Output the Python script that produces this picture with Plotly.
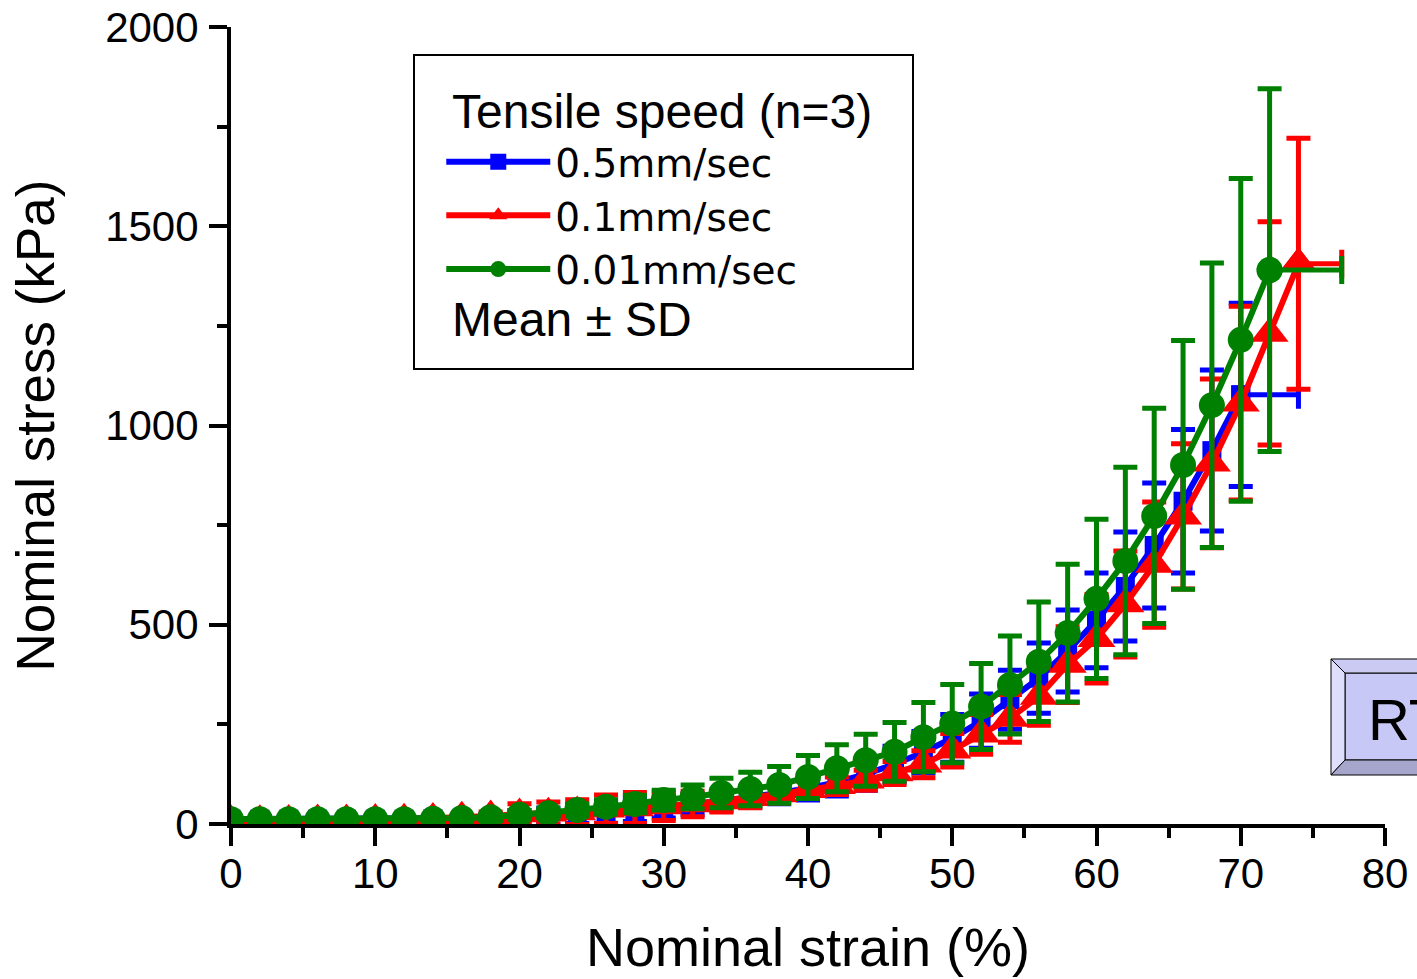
import plotly.graph_objects as go

# ---------------- data ----------------
strain_blue = [0, 2, 4, 6, 8, 10, 12, 14, 16, 18, 20, 22, 24, 26, 28, 30, 32, 34,
               36, 38, 40, 42, 44, 46, 48, 50, 52, 54, 56, 58, 60, 62, 64, 66, 68, 70]
stress_blue = [12, 12, 12, 12, 12, 12, 12, 13, 14, 15, 17, 20, 25, 30, 36, 43, 50, 58,
               67, 78, 90, 105, 125, 150, 180, 215, 258, 312, 366, 434, 511, 596, 699, 810, 937, 1077]
sd_blue = [4, 4, 4, 4, 4, 4, 4, 4, 4, 10, 17, 20, 24, 28, 30, 28, 26, 25,
           25, 27, 30, 35, 40, 45, 52, 60, 68, 74, 88, 103, 119, 137, 157, 180, 202, 230]
xsd_blue_end = 4

strain_red = [0, 2, 4, 6, 8, 10, 12, 14, 16, 18, 20, 22, 24, 26, 28, 30, 32, 34, 36,
              38, 40, 42, 44, 46, 48, 50, 52, 54, 56, 58, 60, 62, 64, 66, 68, 70, 72, 74]
stress_red = [8, 8, 9, 10, 10, 11, 12, 14, 17, 20, 25, 27, 30, 37, 40, 45, 50, 58, 66,
              75, 86, 96, 110, 128, 150, 185, 225, 265, 320, 400, 465, 552, 651, 772, 905, 1056, 1231, 1406]
sd_red = [4, 4, 4, 4, 4, 4, 4, 4, 4, 10, 26, 28, 31, 36, 39, 36, 32, 28, 25,
          22, 22, 22, 25, 29, 34, 42, 50, 60, 72, 95, 111, 133, 157, 182, 212, 243, 280, 315]
xsd_red_end = 3

strain_green = [0, 2, 4, 6, 8, 10, 12, 14, 16, 18, 20, 22, 24, 26, 28, 30, 32, 34, 36,
                38, 40, 42, 44, 46, 48, 50, 52, 54, 56, 58, 60, 62, 64, 66, 68, 70, 72]
stress_green = [12, 12, 12, 12, 12, 12, 12, 13, 15, 17, 23, 27, 35, 43, 50, 60, 68, 78, 88,
                98, 118, 140, 160, 181, 218, 252, 295, 349, 407, 479, 565, 660, 773, 901, 1051, 1215, 1390]
sd_green = [5, 5, 5, 5, 5, 5, 5, 5, 6, 8, 10, 12, 15, 18, 22, 25, 30, 37, 42,
            46, 54, 59, 65, 74, 87, 98, 108, 123, 150, 173, 200, 235, 270, 312, 357, 405, 455]
xsd_green_end = 5

x_ticks = [0, 10, 20, 30, 40, 50, 60, 70, 80]
x_minor = [5, 15, 25, 35, 45, 55, 65, 75]
y_ticks = [0, 500, 1000, 1500, 2000]
y_minor = [250, 750, 1250, 1750]

series = [
    ("0.5mm/sec", strain_blue, stress_blue, sd_blue, xsd_blue_end, "#0000ff", "square", 19),
    ("0.1mm/sec", strain_red, stress_red, sd_red, xsd_red_end, "#ff0000", "triangle-up", 33),
    ("0.01mm/sec", strain_green, stress_green, sd_green, xsd_green_end, "#008000", "circle", 26),
]

fig = go.Figure()
for name, xs, ys, sds, xe, color, sym, size in series:
    fig.add_trace(go.Scatter(
        x=xs, y=ys, name=name, mode="lines+markers",
        line=dict(color=color, width=6),
        marker=dict(symbol=sym, size=size, color=color, line=dict(width=0)),
        error_y=dict(type="data", array=sds, visible=True, color=color,
                     thickness=5, width=12),
    ))
    fig.add_trace(go.Scatter(
        x=[xs[-1]], y=[ys[-1]], mode="markers", showlegend=False,
        marker=dict(symbol=sym, size=size, color=color, line=dict(width=0)),
        error_x=dict(type="data", array=[xe], arrayminus=[0], symmetric=False,
                     visible=True, color=color, thickness=5, width=14),
    ))

FONT = "Liberation Sans, Arial, sans-serif"

fig.update_layout(
    width=1417, height=979,
    margin=dict(l=231, r=32, t=27, b=155, autoexpand=False),
    paper_bgcolor="white", plot_bgcolor="white",
    font=dict(family=FONT, color="black"),
    showlegend=True,
    legend=dict(
        x=0.1822, y=0.871, xanchor="left", yanchor="top",
        bgcolor="rgba(0,0,0,0)", borderwidth=0,
        font=dict(family="DejaVu Sans", size=39, color="black"),
        itemwidth=104, tracegroupgap=0,
    ),
    xaxis=dict(
        range=[0, 80], tickmode="array", tickvals=x_ticks,
        ticks="outside", ticklen=18, tickwidth=4, tickcolor="black",
        showline=True, linewidth=4, linecolor="black",
        showgrid=False, zeroline=False,
        tickfont=dict(family=FONT, size=42, color="black"),
        ticklabelstandoff=-8,
        minor=dict(tickvals=x_minor, ticks="outside", ticklen=10,
                   tickwidth=4, tickcolor="black", showgrid=False),
        title=dict(text="Nominal strain (%)", font=dict(family=FONT, size=54),
                   standoff=33),
        automargin=False,
    ),
    yaxis=dict(
        range=[0, 2000], tickmode="array", tickvals=y_ticks,
        ticks="outside", ticklen=18, tickwidth=4, tickcolor="black",
        showline=True, linewidth=4, linecolor="black",
        showgrid=False, zeroline=False,
        tickfont=dict(family=FONT, size=42, color="black"),
        ticklabelstandoff=2,
        minor=dict(tickvals=y_minor, ticks="outside", ticklen=10,
                   tickwidth=4, tickcolor="black", showgrid=False),
        title=dict(text="Nominal stress (kPa)", font=dict(family=FONT, size=53),
                   standoff=35),
        automargin=False,
    ),
)

# legend frame and extra legend text
fig.add_shape(type="rect", xref="paper", yref="paper",
              x0=0.15858, x1=0.59099, y0=0.57089, y1=0.96487,
              line=dict(color="black", width=2), fillcolor="rgba(0,0,0,0)")
fig.add_annotation(xref="paper", yref="paper", x=0.1898, y=0.8946,
                   xanchor="left", yanchor="middle", showarrow=False,
                   text="Tensile speed (n=3)", font=dict(family=FONT, size=48, color="black"))
fig.add_annotation(xref="paper", yref="paper", x=0.1898, y=0.6336,
                   xanchor="left", yanchor="middle", showarrow=False,
                   text="Mean ± SD", font=dict(family=FONT, size=48, color="black"))

# "RT" beveled label at lower right (cut off by the figure edge)
bx0, bx1, bxr = 0.95321, 0.96534, 1.06
by0, by1, by2, by3 = 0.06148, 0.08030, 0.18946, 0.20703
fig.add_shape(type="rect", xref="paper", yref="paper", x0=bx1, x1=bxr, y0=by1, y1=by2,
              fillcolor="#c8c8f6", line=dict(color="black", width=1))
fig.add_shape(type="path", xref="paper", yref="paper",
              path=f"M{bx0},{by3} L{bxr},{by3} L{bxr},{by2} L{bx1},{by2} Z",
              fillcolor="#cacaf2", line=dict(color="black", width=1))
fig.add_shape(type="path", xref="paper", yref="paper",
              path=f"M{bx0},{by3} L{bx1},{by2} L{bx1},{by1} L{bx0},{by0} Z",
              fillcolor="#dedefc", line=dict(color="black", width=1))
fig.add_shape(type="path", xref="paper", yref="paper",
              path=f"M{bx0},{by0} L{bx1},{by1} L{bxr},{by1} L{bxr},{by0} Z",
              fillcolor="#a6a6cc", line=dict(color="black", width=1))
fig.add_annotation(xref="paper", yref="paper", x=0.9835, y=0.1305,
                   xanchor="left", yanchor="middle", showarrow=False,
                   text="RT", font=dict(family=FONT, size=58, color="black"))

fig.write_html("out.html")
